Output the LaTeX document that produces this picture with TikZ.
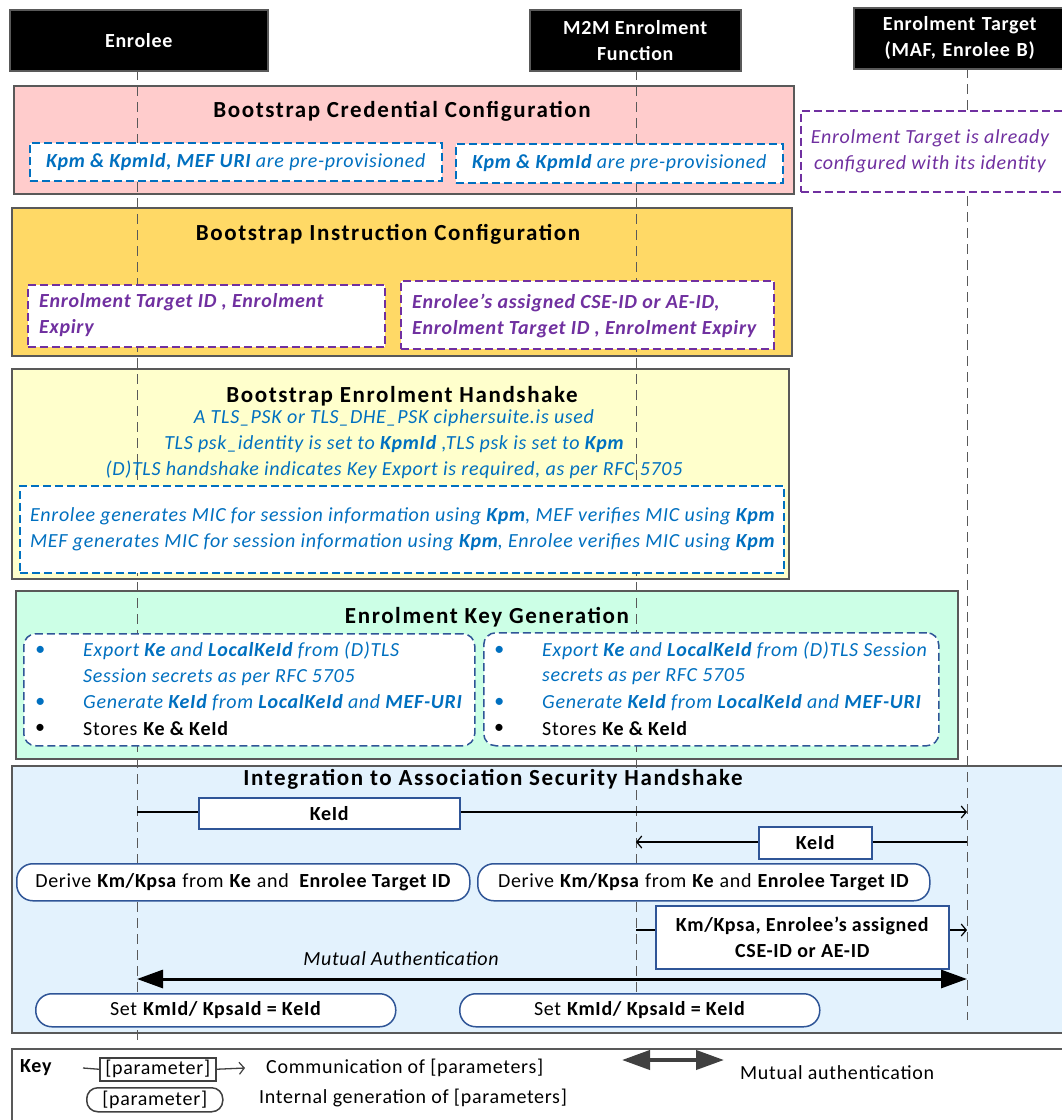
\documentclass[tikz,border=0pt]{standalone}
\usepackage{fontspec}
\setmainfont{Carlito}[LetterSpace=3.5]
\usetikzlibrary{arrows.meta}
\definecolor{bl}{HTML}{0070C0}
\definecolor{pu}{HTML}{7030A0}
\definecolor{db}{HTML}{2F5597}
\definecolor{pinkf}{HTML}{FFCCCC}
\definecolor{orf}{HTML}{FFD966}
\definecolor{yef}{HTML}{FFFFCC}
\definecolor{grf}{HTML}{CCFFE6}
\definecolor{blf}{HTML}{E3F2FD}
\definecolor{frame}{HTML}{595959}
\definecolor{keyar}{HTML}{404040}
\newcommand\fsBody{\fontsize{20}{26}\selectfont}
\newcommand\fsTitle{\fontsize{23}{26}\selectfont\addfontfeatures{LetterSpace=7}}
\newcommand\fsHdr{\fontsize{20}{26}\selectfont}
\begin{document}
\begin{tikzpicture}[x=1pt,y=-1pt,
  phase/.style={draw=frame, line width=1.5pt, anchor=north west, inner sep=0pt},
  hdr/.style={fill=black, draw=frame, line width=1.5pt, text=white, font=\bfseries\fsHdr, align=center, anchor=north west, inner sep=0pt},
  ttl/.style={font=\bfseries\fsTitle, inner sep=0pt},
  btxt/.style={font=\itshape\fsBody, text=bl, inner sep=0pt},
  ptxt/.style={font=\itshape\fsBody, text=pu, inner sep=0pt},
  ktxt/.style={font=\fsBody, inner sep=0pt},
  bluedash/.style={draw=bl, dash pattern=on 8pt off 4pt, line width=1.5pt, fill=white, anchor=north west, inner sep=0pt},
  purdash/.style={draw=pu, dash pattern=on 8pt off 4pt, line width=1.5pt, fill=white, anchor=north west, inner sep=0pt},
  rdash/.style={draw=db, dash pattern=on 8pt off 4pt, line width=1.5pt, fill=white, rounded corners=12pt, anchor=north west, inner sep=0pt},
  lbl/.style={draw=db, line width=1.5pt, fill=white, anchor=north west, inner sep=0pt, font=\bfseries\fsBody, align=center},
  pill/.style={draw=db, line width=1.5pt, fill=white, rounded corners=16pt, anchor=north west, inner sep=0pt},
  life/.style={draw=frame, line width=1pt, dash pattern=on 10pt off 6pt},
  msg/.style={draw=black, line width=1.3pt},
  msgar/.style={msg, -{Straight Barb[length=5pt,width=12pt,line width=1.2pt]}},
]
\useasboundingbox (0,0) rectangle (1062,1120);
\fill[white] (0,0) rectangle (1062,1120);

% ---------- phase boxes ----------
\node[phase, fill=pinkf, minimum width=780, minimum height=108] (cred) at (13,85) {};
\node[phase, fill=orf, minimum width=780, minimum height=148] (instr) at (11,207) {};
\node[phase, fill=yef, minimum width=777, minimum height=210] (hand) at (11,368) {};
\node[phase, fill=grf, minimum width=942, minimum height=168] (keygen) at (15,590) {};
\node[phase, fill=blf, minimum width=1100, minimum height=267] (integ) at (11,765) {};
\node[phase, fill=white, minimum width=1100, minimum height=120] (key) at (11,1048) {};

% ---------- lifelines ----------
\coordinate (eTop) at (137,70);  \coordinate (eBot) at (137,1040);
\coordinate (mTop) at (636,70);  \coordinate (mBot) at (636,1026);
\coordinate (tTop) at (967,68);  \coordinate (tBot) at (967,1020);
\draw[life] (eTop) -- (eBot);
\draw[life] (mTop) -- (mBot);
\draw[life] (tTop) -- (tBot);

% ---------- headers ----------
\node[hdr, minimum width=258, minimum height=61] (enr) at (9,9) {Enrolee};
\node[hdr, minimum width=211, minimum height=61] (mef) at (529,9) {M2M Enrolment\\Function};
\node[hdr, minimum width=230, minimum height=61, text width=210] (tgt) at (853,7) {\hspace*{-18pt}Enrolment Target\\\hspace*{-18pt}(MAF, Enrolee B)};

% ---------- Bootstrap Credential Configuration ----------
\node[ttl] (credT) at (402,111) {Bootstrap Credential Configuration};
\node[bluedash, minimum width=412, minimum height=38] (pc1) at (29,142) {};
\node[btxt] (pc1t) at (pc1.center) {\textbf{Kpm \& KpmId, MEF URI} are pre-provisioned};
\node[bluedash, minimum width=327, minimum height=39] (pc2) at (455,143) {};
\node[btxt] (pc2t) at (pc2.center) {\textbf{Kpm \& KpmId} are pre-provisioned};
\node[purdash, minimum width=270, minimum height=81] (ptg) at (800,110) {};
\node[ptxt, align=center] (ptgt) at (930,151) {Enrolment Target is already\\configured with its identity};

% ---------- Bootstrap Instruction Configuration ----------
\node[ttl] (instT) at (388,234) {Bootstrap Instruction Configuration};
\node[purdash, minimum width=357, minimum height=62] (ib1) at (27,284) {};
\node[ptxt, align=left, anchor=west, font=\bfseries\itshape\fsBody] (ib1t) at (39,315.5) {Enrolment Target ID , Enrolment\\Expiry};
\node[purdash, minimum width=373, minimum height=68] (ib2) at (400,280) {};
\node[ptxt, align=left, anchor=west, font=\bfseries\itshape\fsBody] (ib2t) at (412,315.5) {Enrolee’s assigned CSE-ID or AE-ID,\\Enrolment Target ID , Enrolment Expiry};

% ---------- Bootstrap Enrolment Handshake ----------
\node[ttl] (handT) at (402,396) {Bootstrap Enrolment Handshake};
\node[btxt, align=center] (handt) at (394,444) {A TLS\_PSK or TLS\_DHE\_PSK ciphersuite.is used\\
TLS psk\_identity is set to \textbf{KpmId} ,TLS psk is set to \textbf{Kpm}\\
(D)TLS handshake indicates Key Export is required, as per RFC 5705};
\node[bluedash, minimum width=764, minimum height=87] (mic) at (19,485) {};
\node[btxt, align=left, anchor=west] (mict) at (30,529) {Enrolee generates MIC for session information using \textbf{Kpm}, MEF verifies MIC using \textbf{Kpm}\\
MEF generates MIC for session information using \textbf{Kpm}, Enrolee verifies MIC using \textbf{Kpm}};

% ---------- Enrolment Key Generation ----------
\node[ttl] (kgT) at (487,617) {Enrolment Key Generation};
\node[rdash, minimum width=451, minimum height=112] (kg1) at (23,633) {};
\node[rdash, minimum width=455, minimum height=113] (kg2) at (483,632) {};
\foreach \bx/\nm in {40/a, 499/b}{
  \node[btxt] (bu1\nm) at (\bx,651) {•};
  \node[btxt] (bu2\nm) at (\bx,703) {•};
  \node[ktxt] (bu3\nm) at (\bx,729) {•};
}
\node[btxt, anchor=west] (kga1) at (83,651) {Export \textbf{Ke} and \textbf{LocalKeId} from (D)TLS};
\node[btxt, anchor=west] (kga2) at (83,677) {Session secrets as per RFC 5705};
\node[btxt, anchor=west] (kga3) at (83,703) {Generate \textbf{KeId} from \textbf{LocalKeId} and \textbf{MEF-URI}};
\node[ktxt, anchor=west] (kga4) at (83,729) {Stores \textbf{Ke \& KeId}};
\node[btxt, anchor=west] (kgb1) at (542,651) {Export \textbf{Ke} and \textbf{LocalKeId} from (D)TLS Session};
\node[btxt, anchor=west] (kgb2) at (542,677) {secrets as per RFC 5705};
\node[btxt, anchor=west] (kgb3) at (542,703) {Generate \textbf{KeId} from \textbf{LocalKeId} and \textbf{MEF-URI}};
\node[ktxt, anchor=west] (kgb4) at (542,729) {Stores \textbf{Ke \& KeId}};

% ---------- Integration to Association Security Handshake ----------
\node[ttl] (intT) at (493,779) {Integration to Association Security Handshake};
\coordinate (a1s) at (137,812); \coordinate (a1e) at (967,812);
\draw[msgar] (a1s) -- (a1e);
\node[lbl, minimum width=261, minimum height=31] (l1) at (198,797) {KeId};
\coordinate (a2s) at (967,842); \coordinate (a2e) at (636,842);
\draw[msgar] (a2s) -- (a2e);
\node[lbl, minimum width=113, minimum height=32] (l2) at (758,826) {KeId};
\node[pill, minimum width=453, minimum height=37] (d1) at (16,863) {};
\node[ktxt] (d1t) at (d1.center) {Derive \textbf{Km/Kpsa} from \textbf{Ke} and \ \textbf{Enrolee Target ID}};
\node[pill, minimum width=452, minimum height=37] (d2) at (477,863) {};
\node[ktxt] (d2t) at (d2.center) {Derive \textbf{Km/Kpsa} from \textbf{Ke} and \textbf{Enrolee Target ID}};
\coordinate (a3s) at (636,930); \coordinate (a3e) at (967,930);
\draw[msgar] (a3s) -- (a3e);
\node[lbl, minimum width=293, minimum height=63] (l3) at (655,905) {Km/Kpsa, Enrolee’s assigned\\CSE-ID or AE-ID};
\node[ktxt, font=\itshape\fsBody] (mat) at (401,959) {Mutual Authentication};
\coordinate (a4s) at (137,979); \coordinate (a4e) at (967,979);
\draw[line width=3pt, {Triangle[length=26pt,width=18pt]}-{Triangle[length=26pt,width=18pt]}] (a4s) -- (a4e);
\node[pill, minimum width=360, minimum height=33] (s1) at (35,993) {};
\node[ktxt] (s1t) at (s1.center) {Set \textbf{KmId/ KpsaId = KeId}};
\node[pill, minimum width=360, minimum height=33] (s2) at (459,993) {};
\node[ktxt] (s2t) at (s2.center) {Set \textbf{KmId/ KpsaId = KeId}};

% ---------- Key ----------
\node[ktxt, font=\bfseries\fsBody, anchor=west] (keyT) at (20,1068) {Key};
\coordinate (kls) at (83,1068);
\node[draw=keyar, line width=1.5pt, fill=white, anchor=north west, inner sep=0pt, minimum width=116, minimum height=23, font=\fsBody] (kp1) at (99,1057) {[parameter]};
\coordinate (kle) at (245,1068);
\draw[msg, draw=keyar] (kls) -- (kp1.west);
\draw[msgar, draw=keyar] (kp1.east) -- (kle);
\node[ktxt, anchor=west] (kc) at (266,1068) {Communication of [parameters]};
\coordinate (mas) at (622,1060); \coordinate (mae) at (724,1060);
\draw[draw=keyar, line width=4pt, {Triangle[length=28pt,width=19pt]}-{Triangle[length=28pt,width=19pt]}] (mas) -- (mae);
\node[ktxt, anchor=west] (kma) at (740,1073) {Mutual authentication};
\node[draw=keyar, line width=1.5pt, fill=white, rounded corners=11pt, anchor=north west, inner sep=0pt, minimum width=136, minimum height=24, font=\fsBody] (kp2) at (86,1087) {[parameter]};
\node[ktxt, anchor=west] (kig) at (259,1098) {Internal generation of [parameters]};
\end{tikzpicture}
\end{document}
